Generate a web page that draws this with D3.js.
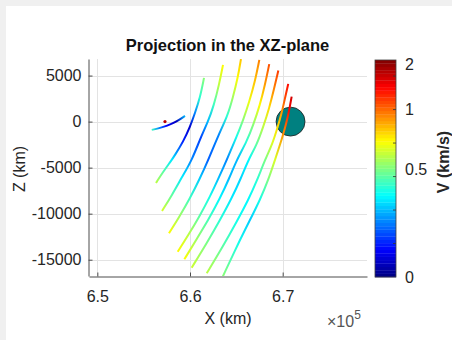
<!DOCTYPE html>
<html>
<head>
<meta charset="utf-8">
<title>Projection in the XZ-plane</title>
<script src="https://cdn.jsdelivr.net/npm/d3@7"></script>
<style>
  body { margin: 0; background: #f0f0f0; }
  svg text { font-family: "Liberation Sans", Arial, sans-serif; fill: #262626; }
</style>
</head>
<body>
<div id="chart"></div>
<script>
// trajectories in the XZ-plane, x (km), z (km), speed V (km/s), listed from the lower end up
const t1X = [656330, 657090, 658030, 658380, 659250, 660000, 660540, 661080, 661510]
const t1Z = [-6660, -5470, -4160, -3620, -2210, -580, 950, 2580, 4750]
const t1V = [0.62, 0.47, 0.36, 0.31, 0.16, 0.08, 0.26, 0.42, 0.53]

const t2X = [656980, 658060, 659140, 660220, 661130, 661940, 662590, 663130, 663560]
const t2Z = [-9710, -7970, -6010, -4160, -1770, -30, 1815, 3990, 6160]
const t2V = [0.67, 0.47, 0.36, 0.26, 0.19, 0.31, 0.44, 0.62, 0.74]

const t3X = [657730, 658850, 660000, 661080, 661970, 663070, 664020, 664610, 665150, 665500]
const t3Z = [-12130, -10330, -8330, -6150, -4160, -1450, 540, 2540, 4720, 6800]
const t3V = [0.74, 0.57, 0.44, 0.33, 0.22, 0.26, 0.42, 0.57, 0.74, 0.84]

const t4X = [658670, 659820, 661000, 662160, 663160, 663960, 665040, 665750, 666400, 667010, 667480]
const t4Z = [-14130, -12320, -10330, -8150, -5980, -4160, -1630, 185, 2170, 4350, 6700]
const t4V = [0.74, 0.62, 0.47, 0.40, 0.31, 0.26, 0.40, 0.53, 0.71, 0.84, 0.96]

const t5X = [659390, 660650, 661970, 663240, 664240, 665040, 666120, 666830, 667550, 668090, 668550]
const t5Z = [-14960, -12860, -10690, -8330, -6150, -4160, -2170, -360, 1815, 3990, 6240]
const t5V = [0.74, 0.57, 0.45, 0.375, 0.31, 0.31, 0.42, 0.53, 0.74, 0.91, 1.13]

const t6X = [660180, 661800, 663240, 664500, 665500, 666290, 667200, 667910, 668550, 669090, 669530]
const t6Z = [-15870, -13220, -10690, -8330, -6150, -4160, -2530, -540, 1460, 3630, 5540]
const t6V = [0.65, 0.50, 0.42, 0.36, 0.34, 0.375, 0.47, 0.62, 0.79, 0.96, 1.23]

const t7X = [661800, 663530, 665040, 666290, 667260, 668090, 668920, 669420, 669890, 670250, 670600]
const t7Z = [-16480, -13590, -10870, -8510, -6340, -4160, -2350, -720, 910, 2540, 4100]
const t7V = [0.62, 0.47, 0.40, 0.375, 0.42, 0.50, 0.67, 0.79, 0.91, 1.13, 1.47]

const t8X = [663530, 665210, 666470, 667550, 668450, 669170, 670000, 670430, 670710, 670970]
const t8Z = [-16850, -13220, -10690, -8510, -6340, -4160, -1630, 0, 1270, 2720]
const t8V = [0.53, 0.40, 0.33, 0.40, 0.50, 0.67, 0.91, 1.13, 1.47, 1.71]

// short track left of the others
const t9X = [655870, 656660, 657490, 658570, 659460]
const t9Z = [-900, -720, -470, 0, 620]
const t9V = [0.44, 0.26, 0.125, 0.06, 0.31]

// single point and the moon
const dotX = 657300, dotZ = 0, dotV = 1.8
const moonX = 670850, moonZ = 0, moonR = 1561

const xTicks = [650000, 660000, 670000]
const zTicks = [-15000, -10000, -5000, 0, 5000]
const cbTicks = [0, 0.5, 1, 2]

const tracks = [
  [t1X, t1Z, t1V], [t2X, t2Z, t2V], [t3X, t3Z, t3V], [t4X, t4Z, t4V],
  [t5X, t5Z, t5V], [t6X, t6Z, t6V], [t7X, t7Z, t7V], [t8X, t8Z, t8V], [t9X, t9Z, t9V]
].map(([xs, zs, vs]) => xs.map((x, i) => ({ x: x, z: zs[i], v: vs[i] })))

const width = 452
const height = 340
const plot = { left: 89, right: 367, top: 59, bottom: 276 }
const bar = { left: 375, right: 396, top: 60, bottom: 277 }
const fs = 16

const x = d3.scaleLinear().domain([649100, 679100]).range([plot.left, plot.right])
const z = d3.scaleLinear().domain([-16770, 6800]).range([plot.bottom, plot.top])

// colour bar is not linear in V
const qMax = 6.48
const vToQ = d3.scaleLinear().domain([0, 0.5, 1, 2]).range([0, 3.2, 5, 6.35]).clamp(true)
const qToY = d3.scaleLinear().domain([0, qMax]).range([bar.bottom, bar.top])

function jet(t) {
  const c = v => Math.round(255 * Math.max(0, Math.min(1, v)))
  return d3.rgb(c(1.5 - Math.abs(4 * t - 3)), c(1.5 - Math.abs(4 * t - 2)), c(1.5 - Math.abs(4 * t - 1))).toString()
}
const vColor = v => jet(vToQ(v) / qMax)

const svg = d3.select('#chart').append('svg')
  .attr('width', width)
  .attr('height', height)

svg.append('rect').attr('x', 6).attr('y', 6).attr('width', width - 6).attr('height', height - 6).attr('fill', '#fff')

const defs = svg.append('defs')
defs.append('clipPath').attr('id', 'clip')
  .append('rect')
  .attr('x', plot.left).attr('y', plot.top)
  .attr('width', plot.right - plot.left).attr('height', plot.bottom - plot.top)

// grid
const grid = svg.append('g').attr('stroke', '#e3e3e3').attr('stroke-width', 1)
grid.selectAll('.gx').data(xTicks).enter().append('line')
  .attr('x1', d => Math.round(x(d)) + 0.5).attr('x2', d => Math.round(x(d)) + 0.5)
  .attr('y1', plot.top).attr('y2', plot.bottom)
grid.selectAll('.gz').data(zTicks).enter().append('line')
  .attr('x1', plot.left).attr('x2', plot.right)
  .attr('y1', d => Math.round(z(d)) + 0.5).attr('y2', d => Math.round(z(d)) + 0.5)

const area = svg.append('g').attr('clip-path', 'url(#clip)')

// moon
area.append('circle')
  .attr('cx', x(moonX))
  .attr('cy', z(moonZ))
  .attr('r', x(moonX + moonR) - x(moonX))
  .attr('fill', '#008080')
  .attr('stroke', '#1a1a1a')
  .attr('stroke-width', 0.8)

// tracks coloured by speed through a gradient along each one
const line = d3.line().x(d => x(d.x)).y(d => z(d.z)).curve(d3.curveBasis)
tracks.forEach((pts, i) => {
  const p0 = [x(pts[0].x), z(pts[0].z)]
  const p1 = [x(pts[pts.length - 1].x), z(pts[pts.length - 1].z)]
  const dx = p1[0] - p0[0], dy = p1[1] - p0[1]
  const len2 = dx * dx + dy * dy
  const grad = defs.append('linearGradient')
    .attr('id', 'g' + i)
    .attr('gradientUnits', 'userSpaceOnUse')
    .attr('x1', p0[0]).attr('y1', p0[1])
    .attr('x2', p1[0]).attr('y2', p1[1])
  grad.selectAll('stop').data(pts).enter().append('stop')
    .attr('offset', d => Math.max(0, Math.min(1, ((x(d.x) - p0[0]) * dx + (z(d.z) - p0[1]) * dy) / len2)))
    .attr('stop-color', d => vColor(d.v))
  area.append('path')
    .datum(pts)
    .attr('d', line)
    .attr('fill', 'none')
    .attr('stroke', 'url(#g' + i + ')')
    .attr('stroke-width', 2)
})

area.append('circle')
  .attr('cx', x(dotX)).attr('cy', z(dotZ)).attr('r', 1.6)
  .attr('fill', vColor(dotV))

// axes
const xAxis = d3.axisBottom(x).tickValues(xTicks).tickFormat(d => (d / 1e5).toFixed(1))
  .tickSizeInner(-4).tickSizeOuter(0).tickPadding(14)
const zAxis = d3.axisLeft(z).tickValues(zTicks).tickFormat(d => d)
  .tickSizeInner(-4).tickSizeOuter(0).tickPadding(7)

const gx = svg.append('g').attr('transform', `translate(0, ${plot.bottom + 0.5})`).call(xAxis)
const gz = svg.append('g').attr('transform', `translate(${plot.left - 0.5}, 0)`).call(zAxis)
;[gx, gz].forEach(g => {
  g.attr('color', '#4d4d4d')
  g.selectAll('text').attr('font-size', fs).style('fill', '#262626')
})

svg.append('text')
  .attr('x', 227.5).attr('y', 51)
  .attr('text-anchor', 'middle')
  .attr('font-size', 16.5).attr('font-weight', 'bold')
  .style('fill', '#111')
  .text('Projection in the XZ-plane')

svg.append('text')
  .attr('x', 228).attr('y', 324)
  .attr('text-anchor', 'middle')
  .attr('font-size', fs)
  .text('X (km)')

const exp = svg.append('text')
  .attr('x', 327).attr('y', 327)
  .attr('font-size', fs)
  .style('fill', '#555')
  .text('×10')
exp.append('tspan').attr('dy', -8).attr('font-size', 12).text('5')

svg.append('text')
  .attr('transform', 'translate(19, 169) rotate(-90)')
  .attr('text-anchor', 'middle')
  .attr('dy', '0.35em')
  .attr('font-size', fs)
  .text('Z (km)')

// colour bar
const nBands = 64
const bandH = (bar.bottom - bar.top) / nBands
svg.append('g').selectAll('rect')
  .data(d3.range(nBands))
  .enter()
  .append('rect')
  .attr('x', bar.left)
  .attr('y', d => bar.bottom - (d + 1) * bandH)
  .attr('width', bar.right - bar.left)
  .attr('height', bandH + 0.3)
  .attr('fill', d => jet((d + 0.5) / nBands))

svg.append('g').selectAll('line')
  .data(d3.range(1, 7))
  .enter()
  .append('line')
  .attr('x1', bar.right - 3).attr('x2', bar.right)
  .attr('y1', d => qToY(d)).attr('y2', d => qToY(d))
  .attr('stroke', '#333').attr('stroke-width', 0.8)

svg.append('rect')
  .attr('x', bar.left).attr('y', bar.top)
  .attr('width', bar.right - bar.left).attr('height', bar.bottom - bar.top)
  .attr('fill', 'none').attr('stroke', '#404040').attr('stroke-width', 0.8)

svg.append('g').selectAll('text')
  .data(cbTicks)
  .enter()
  .append('text')
  .attr('x', bar.right + 9)
  .attr('y', d => qToY(vToQ(d)))
  .attr('dy', '0.35em')
  .attr('font-size', fs)
  .text(d => d)

svg.append('text')
  .attr('transform', 'translate(443, 162) rotate(-90)')
  .attr('text-anchor', 'middle')
  .attr('dy', '0.35em')
  .attr('font-size', fs).attr('font-weight', 'bold')
  .text('V (km/s)')
</script>
</body>
</html>
